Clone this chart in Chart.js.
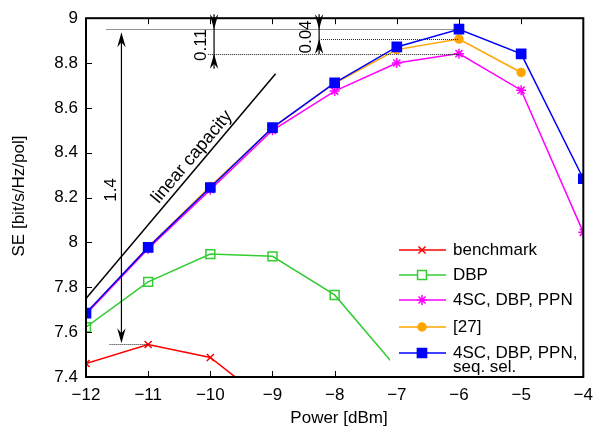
<!DOCTYPE html>
<html>
<head>
<meta charset="utf-8">
<script src="https://cdn.jsdelivr.net/npm/chart.js@4.4.0/dist/chart.umd.min.js"></script>
<style>
  html, body { margin: 0; padding: 0; background: #fff; }
</style>
</head>
<body>
<canvas id="se" width="601" height="432"></canvas>
<script>
const powers = [-12, -11, -10, -9, -8, -7, -6, -5, -4];
const benchmark = [7.46, 7.545, 7.487, 7.27, null, null, null, null, null];
const dbp = [7.622, 7.824, 7.948, 7.938, 7.766, 7.44, null, null, null];
const ppn = [7.68, 7.972, 8.235, 8.50, 8.675, 8.80, 8.842, 8.679, 8.045];
const ref27 = [7.685, 7.98, 8.25, 8.51, 8.71, 8.86, 8.907, 8.758, null];
const seqSel = [7.685, 7.978, 8.245, 8.512, 8.712, 8.872, 8.951, 8.841, 8.284];
const linearCap = [[-12, 7.75], [-8.95, 8.752]];

const FONT = '"Liberation Sans", Arial, Helvetica, sans-serif';

function pts(ys) {
    return powers.map((x, i) => ({ x: x, y: ys[i] }));
}

function arrowHead(ctx, x, tipY, dir) {
    // dir = 1 -> points down, dir = -1 -> points up
    const L = 15, W = 4.2, N = 10;
    ctx.beginPath();
    ctx.moveTo(x, tipY);
    ctx.lineTo(x - W, tipY - dir * L);
    ctx.lineTo(x, tipY - dir * N);
    ctx.lineTo(x + W, tipY - dir * L);
    ctx.closePath();
    ctx.fill();
}

const series = [
    { label: 'benchmark', data: benchmark, color: '#ff0000', style: 'crossRot', r: 5, fill: false },
    { label: 'DBP', data: dbp, color: '#33cc33', style: 'rect', r: 6.3, fill: false },
    { label: '4SC, DBP, PPN', data: ppn, color: '#ff00ff', style: 'star', r: 5, fill: false },
    { label: '[27]', data: ref27, color: '#ffa500', style: 'circle', r: 4, fill: true },
    { label: '4SC, DBP, PPN,|seq. sel.', data: seqSel, color: '#0000ff', style: 'rect', r: 6.5, fill: true }
];

const decor = {
    id: 'decor',
    afterDatasetsDraw(chart) {
        const ctx = chart.ctx;
        const xs = chart.scales.x, ys = chart.scales.y;
        const a = chart.chartArea;
        const px = v => xs.getPixelForValue(v);
        const py = v => ys.getPixelForValue(v);
        ctx.save();

        // dotted guide lines
        ctx.strokeStyle = '#222';
        ctx.lineWidth = 1;
        ctx.setLineDash([1, 1]);
        const guides = [
            [-11.67, -6, 8.951],
            [-8.22, -6, 8.907],
            [-10.04, -6, 8.842],
            [-11.62, -11, 7.546]
        ];
        guides.forEach(g => {
            ctx.beginPath();
            ctx.moveTo(px(g[0]), Math.round(py(g[2])) + 0.5);
            ctx.lineTo(px(g[1]), Math.round(py(g[2])) + 0.5);
            ctx.stroke();
        });
        ctx.setLineDash([]);

        // linear capacity line
        ctx.strokeStyle = '#000';
        ctx.lineWidth = 1.5;
        ctx.beginPath();
        ctx.moveTo(px(linearCap[0][0]), py(linearCap[0][1]));
        ctx.lineTo(px(linearCap[1][0]), py(linearCap[1][1]));
        ctx.stroke();

        // arrows
        ctx.fillStyle = '#000';
        ctx.lineWidth = 1.2;
        const xA = px(-11.43);
        const topA = py(8.951) + 3, botA = py(7.546) - 1;
        ctx.beginPath(); ctx.moveTo(xA, topA + 5); ctx.lineTo(xA, botA - 5); ctx.stroke();
        arrowHead(ctx, xA, topA, -1);
        arrowHead(ctx, xA, botA, 1);

        const xB = px(-9.94);
        ctx.beginPath(); ctx.moveTo(xB, a.top - 4); ctx.lineTo(xB, py(8.842) + 15); ctx.stroke();
        arrowHead(ctx, xB, py(8.951), 1);
        arrowHead(ctx, xB, py(8.842), -1);

        const xC = px(-8.25);
        ctx.beginPath(); ctx.moveTo(xC, a.top - 4); ctx.lineTo(xC, py(8.907) + 15); ctx.stroke();
        arrowHead(ctx, xC, py(8.951), 1);
        arrowHead(ctx, xC, py(8.907), -1);

        // annotation texts
        ctx.font = '17px ' + FONT;
        ctx.textAlign = 'center';
        ctx.textBaseline = 'middle';
        const rotText = (t, x, y, ang) => {
            ctx.save();
            ctx.translate(x, y);
            ctx.rotate(ang);
            ctx.fillText(t, 0, 0);
            ctx.restore();
        };
        rotText('1.4', 111, 190, -Math.PI / 2);
        rotText('0.11', 201, 45, -Math.PI / 2);
        rotText('0.04', 306, 37, -Math.PI / 2);
        const ang = Math.atan2(py(linearCap[1][1]) - py(linearCap[0][1]), px(linearCap[1][0]) - px(linearCap[0][0]));
        ctx.font = '18px ' + FONT;
        rotText('linear capacity', 192, 157, ang);

        // ticks (inward)
        ctx.strokeStyle = '#000';
        ctx.lineWidth = 1;
        powers.forEach(v => {
            const x = Math.round(px(v)) + 0.5;
            ctx.beginPath();
            ctx.moveTo(x, a.bottom); ctx.lineTo(x, a.bottom - 6);
            ctx.moveTo(x, a.top); ctx.lineTo(x, a.top + 6);
            ctx.stroke();
        });
        ys.ticks.forEach(t => {
            const y = Math.round(py(t.value)) + 0.5;
            ctx.beginPath();
            ctx.moveTo(a.left, y); ctx.lineTo(a.left + 6, y);
            ctx.stroke();
        });

        // legend
        ctx.fillStyle = '#fff';
        ctx.fillRect(390, 237, a.right - 391, a.bottom - 238);
        const rowsY = [250, 275, 300, 327, 353];
        series.forEach((s, i) => {
            const y = rowsY[i];
            ctx.strokeStyle = s.color;
            ctx.lineWidth = 1.5;
            ctx.beginPath(); ctx.moveTo(399, y); ctx.lineTo(446, y); ctx.stroke();
            ctx.fillStyle = s.fill ? s.color : '#fff';
            ctx.strokeStyle = s.color;
            Chart.helpers.drawPoint(ctx, {
                pointStyle: s.style, radius: s.r, borderWidth: 1.5, rotation: 0
            }, 422, y);
            ctx.fillStyle = '#000';
            ctx.textAlign = 'left';
            ctx.font = '17px ' + FONT;
            const lines = s.label.split('|');
            lines.forEach((ln, k) => ctx.fillText(ln, 453, y + k * 14));
        });

        // frame
        ctx.strokeStyle = '#000';
        ctx.lineWidth = 2;
        ctx.strokeRect(a.left, a.top, a.right - a.left, a.bottom - a.top);

        // axis titles
        ctx.fillStyle = '#000';
        ctx.font = '17px ' + FONT;
        ctx.textAlign = 'center';
        ctx.textBaseline = 'middle';
        ctx.fillText('Power [dBm]', 339, 418);
        rotText('SE [bit/s/Hz/pol]', 19, 196, -Math.PI / 2);
        ctx.restore();
    }
};

new Chart(document.getElementById('se'), {
    type: 'line',
    data: {
        datasets: series.map((s, i) => ({
            label: s.label,
            data: pts(s.data),
            borderColor: s.color,
            backgroundColor: s.fill ? s.color : '#fff',
            pointBackgroundColor: s.fill ? s.color : 'rgba(0,0,0,0)',
            pointBorderColor: s.color,
            pointStyle: s.style,
            pointRadius: s.r,
            pointBorderWidth: 1.5,
            borderWidth: 1.5,
            spanGaps: false,
            order: series.length - i
        }))
    },
    options: {
        responsive: false,
        animation: false,
        layout: { padding: { top: 15, right: 9, left: 0, bottom: 0 } },
        plugins: {
            legend: { display: false },
            tooltip: { enabled: false }
        },
        scales: {
            x: {
                type: 'linear',
                min: -12,
                max: -4,
                grid: { display: false, drawTicks: false },
                border: { display: false },
                afterFit: s => { s.height = 55; },
                ticks: {
                    stepSize: 1,
                    padding: 8,
                    color: '#000',
                    font: { size: 17, family: FONT },
                    maxRotation: 0,
                    callback: v => String(v).replace('-', '\u2212')
                }
            },
            y: {
                min: 7.4,
                max: 9,
                grid: { display: false, drawTicks: false },
                border: { display: false },
                afterFit: s => { s.width = 86; },
                ticks: {
                    stepSize: 0.2,
                    padding: 8,
                    color: '#000',
                    font: { size: 17, family: FONT },
                    callback: v => String(Number(v.toFixed(1)))
                }
            }
        }
    },
    plugins: [decor]
});
</script>
</body>
</html>
